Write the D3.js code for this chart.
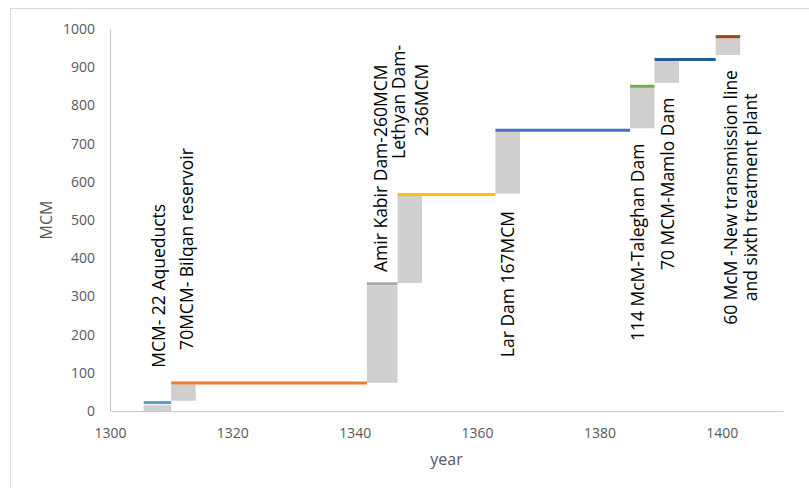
<!DOCTYPE html>
<html>
<head>
<meta charset="utf-8">
<script src="https://cdn.jsdelivr.net/npm/d3@7"></script>
<style>
    body { margin: 0; background: #fff; }
    svg { display: block; font-family: "Open Sans", sans-serif; }
    .axis text { fill: #595959; font-size: 14px; font-family: "Open Sans", sans-serif; }
    .axis path { stroke: #c8c8c8; }
    .axis-title { fill: #595959; font-size: 16px; }
    .note { fill: #000; font-size: 17.5px; }
</style>
</head>
<body>
<div id="chart"></div>
<script>
// step levels (coloured lines): start year, end year, MCM
const stepStart = [1305.5, 1310, 1342, 1347, 1363, 1385, 1389, 1399];
const stepEnd   = [1310, 1342, 1347, 1363, 1385, 1389, 1399, 1403];
const stepLevel = [22, 73, 333, 567, 735, 850, 920, 980];
const stepColors = ['#5b9bd5', '#ed7d31', '#a5a5a5', '#ffc000', '#4472c4', '#70ad47', '#255e91', '#9e480e'];

// grey increment bars
const barStart = [1305.5, 1310, 1342, 1347, 1363, 1385, 1389, 1399];
const barEnd   = [1310, 1314, 1347, 1351, 1367, 1389, 1393, 1403];
const barLow   = [0, 27, 74, 335, 569, 740, 859, 932];
const barHigh  = [15, 70, 328, 565, 733, 846, 918, 978];

// annotations (rotated), anchored at year / MCM
const noteText = [
    'MCM- 22 Aqueducts',
    '70MCM- Bilqan reservoir',
    'Amir Kabir Dam-260MCM',
    'Lethyan Dam-',
    '236MCM',
    'Lar Dam 167MCM',
    '114 McM-Taleghan Dam',
    '70 MCM-Mamlo Dam',
    '60 McM -New transmission line',
    'and sixth treatment plant'
];
const noteYear   = [1309, 1313.5, 1345.2, 1348.2, 1351.9, 1366.1, 1387.3, 1392.2, 1402.5, 1405.8];
const noteValue  = [113, 160, 364, 809, 814, 141, 183, 369, 559, 559];
const noteAnchor = ['start', 'start', 'start', 'middle', 'middle', 'start', 'start', 'start', 'middle', 'middle'];

const xTicks = [1300, 1320, 1340, 1360, 1380, 1400];
const yTicks = [0, 100, 200, 300, 400, 500, 600, 700, 800, 900, 1000];

const width = 809, height = 488;
const margin = { top: 29, right: 26, bottom: 77, left: 110 };
const w = width - margin.left - margin.right;
const h = height - margin.top - margin.bottom;

const svg = d3.select('#chart').append('svg')
    .attr('width', width)
    .attr('height', height);

// page frame
svg.append('rect')
    .attr('x', 10.5).attr('y', 8.5)
    .attr('width', width).attr('height', height)
    .attr('fill', 'none').attr('stroke', '#d9d9d9');

const g = svg.append('g')
    .attr('transform', `translate(${margin.left}, ${margin.top})`);

const x = d3.scaleLinear().domain([1300, 1410]).range([0, w]);
const y = d3.scaleLinear().domain([0, 1000]).range([h, 0]);

// axes
g.append('g')
    .attr('class', 'axis')
    .attr('transform', `translate(0, ${h})`)
    .call(d3.axisBottom(x).tickValues(xTicks).tickSize(0).tickPadding(17).tickFormat(d3.format('d')));

g.append('g')
    .attr('class', 'axis')
    .call(d3.axisLeft(y).tickValues(yTicks).tickSize(0).tickPadding(15).tickFormat(d3.format('d')));

// grey bars
g.selectAll('.bar')
    .data(barStart)
    .enter().append('rect')
    .attr('class', 'bar')
    .attr('x', (d, i) => x(d))
    .attr('width', (d, i) => x(barEnd[i]) - x(d))
    .attr('y', (d, i) => y(barHigh[i]))
    .attr('height', (d, i) => y(barLow[i]) - y(barHigh[i]))
    .attr('fill', '#d0cece');

// step lines
g.selectAll('.step')
    .data(stepStart)
    .enter().append('line')
    .attr('class', 'step')
    .attr('x1', d => x(d))
    .attr('x2', (d, i) => x(stepEnd[i]))
    .attr('y1', (d, i) => y(stepLevel[i]))
    .attr('y2', (d, i) => y(stepLevel[i]))
    .attr('stroke', (d, i) => stepColors[i])
    .attr('stroke-width', 3);

// annotations
g.selectAll('.note')
    .data(noteText)
    .enter().append('text')
    .attr('class', 'note')
    .attr('transform', (d, i) => `translate(${x(noteYear[i])}, ${y(noteValue[i])}) rotate(-90)`)
    .attr('text-anchor', (d, i) => noteAnchor[i])
    .text(d => d);

// axis titles
g.append('text')
    .attr('class', 'axis-title')
    .attr('transform', `translate(${-58}, ${h / 2}) rotate(-90)`)
    .attr('text-anchor', 'middle')
    .text('MCM');

g.append('text')
    .attr('class', 'axis-title')
    .attr('x', w / 2)
    .attr('y', h + 54)
    .attr('text-anchor', 'middle')
    .text('year');
</script>
</body>
</html>
